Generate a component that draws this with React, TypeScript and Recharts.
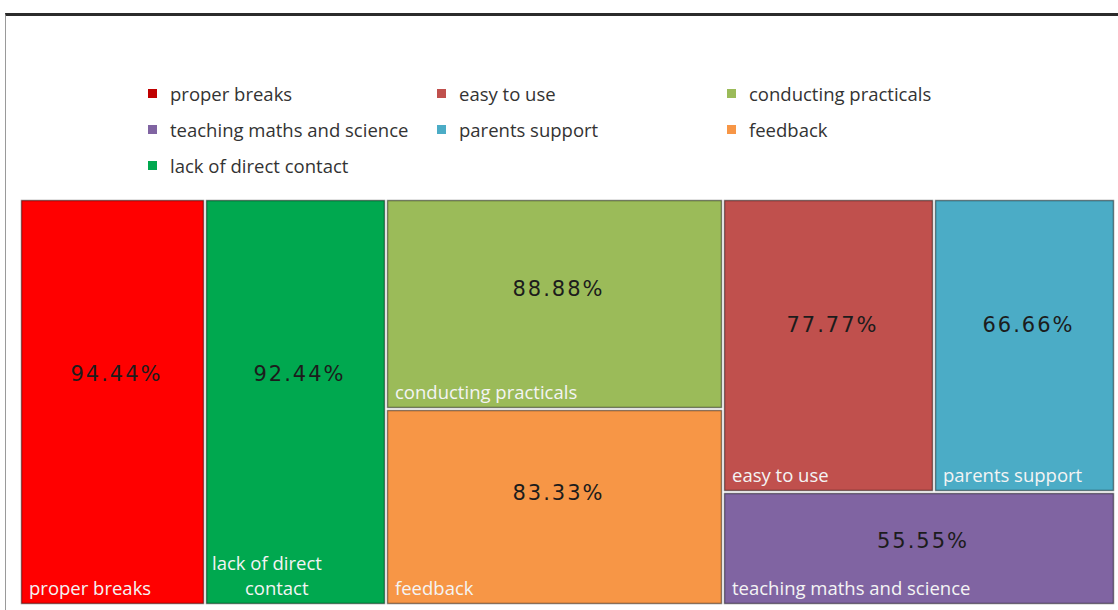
import React from "react"
import { Treemap } from "recharts"

const categories = [
    "proper breaks",
    "lack of direct contact",
    "conducting practicals",
    "feedback",
    "easy to use",
    "parents support",
    "teaching maths and science",
]
const values = [94.44, 92.44, 88.88, 83.33, 77.77, 66.66, 55.55]
const colors = ["#ff0000", "#00a84f", "#9bbb59", "#f79646", "#c0504d", "#4bacc6", "#8064a2"]
const legendColors = ["#c00000", "#00a84f", "#9bbb59", "#f79646", "#c0504d", "#4bacc6", "#8064a2"]
// legend reads row by row, three per row
const legendOrder = [0, 4, 2, 6, 5, 3, 1]

const leaf = (i: number) => ({ name: categories[i], value: values[i], fill: colors[i] })

// grouping only steers the squarify layout into columns like the original
const treeData = [
    leaf(0),
    leaf(1),
    { name: "group-c", children: [leaf(2), leaf(3)] },
    { name: "group-d", children: [{ name: "group-e", children: [leaf(4), leaf(5)] }, leaf(6)] },
]

const CHAR_W = 9.4
const NAME_SIZE = 18.5

// eslint-disable-next-line
const renderTile = (props: any) => {
    const { x, y, width, height, name, value, fill, children } = props
    if ((children && children.length) || !fill) return <g />
    const cx = x + width / 2
    const bottom = y + height
    const words = String(name).split(" ")
    let lines = [String(name)]
    if (String(name).length * CHAR_W > width - 16) {
        // two lines, first one as long as fits
        let first = ""
        let i = 0
        while (i < words.length && (first + " " + words[i]).trim().length * CHAR_W <= width - 16) {
            first = (first + " " + words[i]).trim()
            i++
        }
        lines = [first, words.slice(i).join(" ")]
    }
    return (
        <g>
            <rect
                x={x + 1.5}
                y={y + 1.5}
                width={width - 3}
                height={height - 3}
                fill={fill}
                stroke="rgba(0,0,0,0.45)"
                strokeWidth={1.5}
            />
            <text
                x={cx + 4}
                y={y + height * 0.43}
                textAnchor="middle"
                dominantBaseline="central"
                fill="#1c1c1c"
                fontFamily="DejaVu Sans"
                fontSize={21}
                letterSpacing={2}
            >
                {`${value.toFixed(2)}%`}
            </text>
            {lines.length === 1 ? (
                <text x={x + 9} y={bottom - 10} fill="#f4f4f4" fontFamily="Open Sans" fontSize={NAME_SIZE}>
                    {lines[0]}
                </text>
            ) : (
                <g>
                    <text x={x + 7} y={bottom - 35} fill="#f4f4f4" fontFamily="Open Sans" fontSize={NAME_SIZE}>
                        {lines[0]}
                    </text>
                    <text
                        x={x + 7 + ((lines[0].length - lines[1].length) * CHAR_W) / 2}
                        y={bottom - 10}
                        fill="#f4f4f4"
                        fontFamily="Open Sans"
                        fontSize={NAME_SIZE}
                    >
                        {lines[1]}
                    </text>
                </g>
            )}
        </g>
    )
}

const legendCols = [148, 437, 727]
const legendRows = [94, 130, 166]

export default function App() {
    return (
        <div
            style={{
                position: "absolute",
                left: 0,
                top: 0,
                width: 1118,
                height: 610,
                overflow: "hidden",
                background: "#fff",
                fontFamily: "Open Sans",
            }}
        >
            <div
                style={{
                    position: "absolute",
                    left: 5,
                    top: 13,
                    width: 1130,
                    height: 620,
                    borderTop: "3px solid #2b2b2b",
                    borderLeft: "1px solid #9a9a9a",
                }}
            />
            {legendOrder.map((idx, k) => {
                const col = legendCols[k % 3]
                const row = legendRows[Math.floor(k / 3)]
                return (
                    <div key={categories[idx]}>
                        <div
                            style={{
                                position: "absolute",
                                left: col,
                                top: row - 5,
                                width: 9,
                                height: 9,
                                background: legendColors[idx],
                            }}
                        />
                        <div
                            style={{
                                position: "absolute",
                                left: col + 22,
                                top: row - 13,
                                fontSize: 18.5,
                                lineHeight: "26px",
                                color: "#333",
                                whiteSpace: "nowrap",
                            }}
                        >
                            {categories[idx]}
                        </div>
                    </div>
                )
            })}
            <div style={{ position: "absolute", left: 20, top: 199 }}>
                <Treemap
                    width={1095}
                    height={406}
                    data={treeData}
                    dataKey="value"
                    aspectRatio={0.5}
                    isAnimationActive={false}
                    content={renderTile}
                />
            </div>
        </div>
    )
}
